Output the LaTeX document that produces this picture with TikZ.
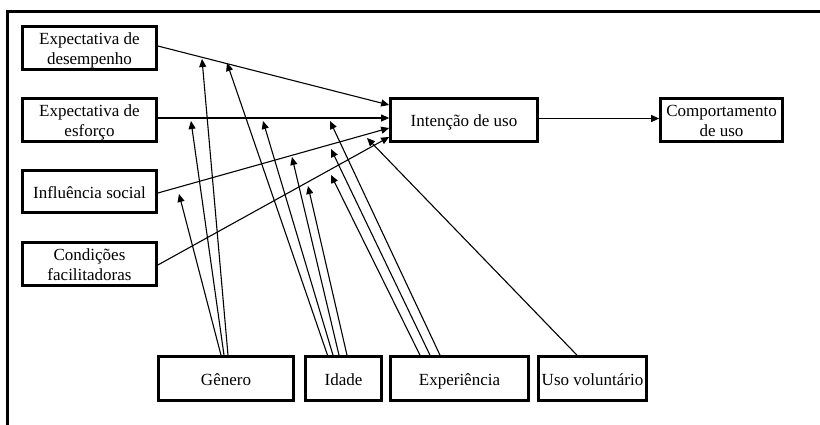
\documentclass[tikz,border=0pt]{standalone}
\usepackage{fontspec}
\setmainfont{Liberation Serif}
\usetikzlibrary{arrows.meta}
\begin{document}
\begin{tikzpicture}[x=1pt,y=-1pt,
  box/.style={draw, line width=2.7pt, inner sep=0pt, align=center,
    font=\fontsize{17}{20}\selectfont, minimum height=43pt,
    text height=16.5pt, text depth=3.5pt},
  twoline/.style={text height=36.5pt},
  link/.style={line width=1.1pt, -{Triangle[length=8pt,width=7pt]}},
]
\fill[white] (0,0) rectangle (820,424);
\useasboundingbox (0,0) rectangle (820,424);
% open frame: left and top edges
\draw[line width=2.7pt] (7.5,430) -- (7.5,11.3) -- (830,11.3);

% determinants
\node[box, twoline, minimum width=134pt] (des) at (89.5,48) {Expectativa de\\desempenho};
\node[box, twoline, minimum width=134pt] (esf) at (89.5,120) {Expectativa de\\esforço};
\node[box, minimum width=134pt, minimum height=42pt] (soc) at (89.5,191.5) {Influência social};
\node[box, twoline, minimum width=134pt] (fac) at (89.5,264) {Condições\\facilitadoras};
% intention and behaviour
\node[box, minimum width=147pt] (int) at (464,120) {Intenção de uso};
\node[box, twoline, minimum width=122pt] (com) at (721.5,120) {Comportamento\\de uso};
% moderators
\node[box, minimum width=135pt, minimum height=44pt] (gen) at (226,378.5) {Gênero};
\node[box, minimum width=76pt, minimum height=44pt] (ida) at (343.5,378.5) {Idade};
\node[box, minimum width=138pt, minimum height=44pt] (exp) at (459.5,378.5) {Experiência};
\node[box, minimum width=108pt, minimum height=44pt] (vol) at (592.5,378.5) {Uso voluntário};

% main paths
\draw[link] ([yshift=2pt]des.east) -- ([yshift=15pt]int.west);
\draw[link] ([yshift=2pt]esf.east) -- ([yshift=2pt]int.west);
\draw[link] ([yshift=-1.5pt]soc.east) -- ([yshift=-8pt]int.west);
\draw[link] ([yshift=-1pt]fac.east) -- ([yshift=-17pt]int.west);
\draw[link] ([yshift=1.5pt]int.east) -- ([yshift=1.5pt]com.west);

% ends of the moderating arrows
\coordinate (gS) at (179,194);
\coordinate (gE) at (191,121);
\coordinate (gD) at (202,59);
\coordinate (aD) at (227,63);
\coordinate (aE) at (263,121);
\coordinate (aS) at (292,157);
\coordinate (aF) at (308,186);
\coordinate (xE) at (330,121);
\coordinate (xS) at (331,149);
\coordinate (xF) at (331,175);
\coordinate (vS) at (367,138);

% gender
\draw[link] ([xshift=-5pt]gen.north) -- (gS);
\draw[link] ([xshift=-2pt]gen.north) -- (gE);
\draw[link] ([xshift=2pt]gen.north) -- (gD);
% age
\draw[link] ([xshift=-16pt]ida.north) -- (aD);
\draw[link] ([xshift=-10.5pt]ida.north) -- (aE);
\draw[link] ([xshift=-4.5pt]ida.north) -- (aS);
\draw[link] ([xshift=3.5pt]ida.north) -- (aF);
% experience
\draw[link] ([xshift=-39.5pt]exp.north) -- (xF);
\draw[link] ([xshift=-29.5pt]exp.north) -- (xS);
\draw[link] ([xshift=-19.5pt]exp.north) -- (xE);
% voluntariness
\draw[link] ([xshift=-15.5pt]vol.north) -- (vS);
\end{tikzpicture}
\end{document}
